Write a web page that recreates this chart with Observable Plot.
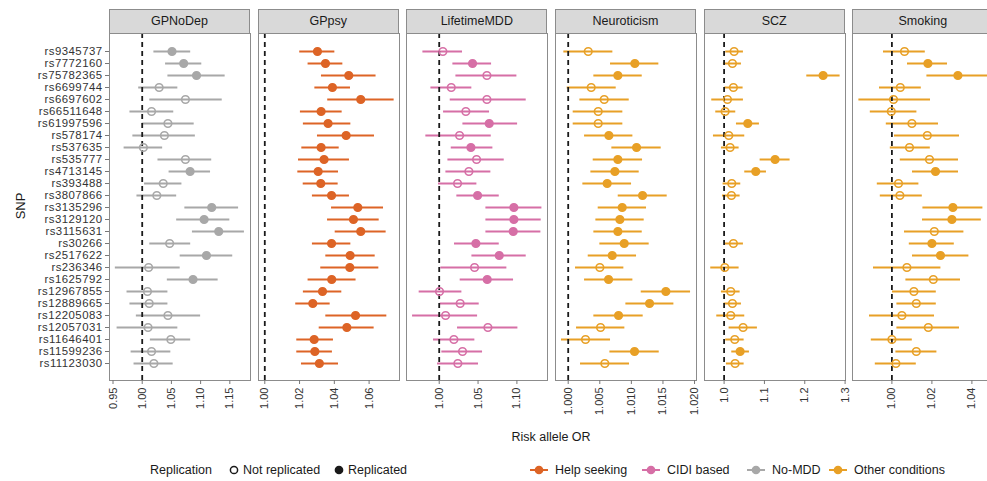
<!DOCTYPE html>
<html><head><meta charset="utf-8">
<script src="https://cdn.jsdelivr.net/npm/d3@7"></script>
<script src="https://cdn.jsdelivr.net/npm/@observablehq/plot@0.6"></script>
<style>
body{margin:0;width:987px;height:481px;overflow:hidden;background:#fff;font-family:"Liberation Sans",Arial,sans-serif;position:relative;color:#333}
.panel{position:absolute;top:0}
.strip{position:absolute;top:9px;height:25px;background:#d9d9d9;border:1px solid #8c8c8c;box-sizing:border-box;font-size:12.5px;color:#1a1a1a;text-align:center;line-height:23px}
.lab{position:absolute;font-size:12.5px;color:#1a1a1a;white-space:nowrap}
.leg{position:absolute;top:470px;transform:translateY(-50%);font-size:12.5px;color:#1a1a1a;white-space:nowrap}
g[aria-label="y-axis tick label"] text{letter-spacing:0.45px}
</style></head>
<body>
<script>
const snps = ["rs9345737","rs7772160","rs75782365","rs6699744","rs6697602","rs66511648","rs61997596","rs578174","rs537635","rs535777","rs4713145","rs393488","rs3807866","rs3135296","rs3129120","rs3115631","rs30266","rs2517622","rs236346","rs1625792","rs12967855","rs12889665","rs12205083","rs12057031","rs11646401","rs11599236","rs11123030"];
const facets = ["GPNoDep","GPpsy","LifetimeMDD","Neuroticism","SCZ","Smoking"];
const groups = ["Help seeking","CIDI based","No-MDD","Other conditions"];
const groupColors = ["#dd6426","#d66fa6","#a8a8a8","#e8a026"];

const noMddOR = [1.051,1.071,1.093,1.029,1.074,1.016,1.044,1.038,1.002,1.074,1.082,1.036,1.025,1.119,1.106,1.131,1.047,1.110,1.011,1.087,1.009,1.012,1.044,1.010,1.049,1.016,1.020];
const noMddLo = [1.020,1.040,1.044,0.994,1.013,0.979,1.000,0.984,0.969,1.027,1.046,1.004,0.991,1.073,1.059,1.086,1.013,1.065,0.954,1.043,0.974,0.979,0.990,0.957,1.014,0.981,0.986];
const noMddHi = [1.083,1.102,1.142,1.061,1.137,1.054,1.089,1.091,1.035,1.119,1.117,1.068,1.059,1.165,1.150,1.175,1.083,1.155,1.065,1.130,1.044,1.044,1.100,1.061,1.083,1.049,1.053];
const noMddRep = [1,1,1,0,0,0,0,0,0,0,1,0,0,1,1,1,0,1,0,1,0,0,0,0,0,0,0];

const gppsyOR = [1.0303,1.0349,1.0483,1.0389,1.0552,1.0324,1.0364,1.0468,1.0324,1.0341,1.0307,1.0322,1.0384,1.0535,1.0510,1.0552,1.0384,1.0491,1.0489,1.0385,1.0332,1.0276,1.0522,1.0472,1.0284,1.0288,1.0314];
const gppsyLo = [1.0201,1.0249,1.0326,1.0288,1.0362,1.0205,1.0222,1.0303,1.0213,1.0194,1.0190,1.0221,1.0274,1.0384,1.0361,1.0405,1.0274,1.0351,1.0322,1.0249,1.0222,1.0178,1.0351,1.0313,1.0184,1.0184,1.0211];
const gppsyHi = [1.0403,1.0449,1.0640,1.0493,1.0744,1.0445,1.0495,1.0631,1.0428,1.0487,1.0424,1.0422,1.0487,1.0683,1.0658,1.0698,1.0495,1.0635,1.0656,1.0525,1.0443,1.0376,1.0702,1.0629,1.0395,1.0389,1.0424];
const gppsyRep = [1,1,1,1,1,1,1,1,1,1,1,1,1,1,1,1,1,1,1,1,1,1,1,1,1,1,1];

const mddOR = [1.0047,1.0429,1.0614,1.0155,1.0614,1.0343,1.0644,1.0262,1.0408,1.0481,1.0382,1.0236,1.0494,1.0961,1.0961,1.0953,1.0472,1.0773,1.0455,1.0618,1.0004,1.0270,1.0082,1.0627,1.0189,1.0300,1.0240];
const mddLo = [0.979,1.0176,1.0215,0.9893,1.0142,1.0056,1.0305,0.9828,1.0155,1.0112,1.0086,0.9991,1.0227,1.0601,1.0601,1.0601,1.0197,1.0421,1.0021,1.0270,0.9742,1.0013,0.9657,1.0236,0.9927,1.0034,0.9979];
const mddHi = [1.030,1.0674,1.100,1.042,1.112,1.0648,1.1009,1.0670,1.0691,1.0837,1.0665,1.0485,1.0773,1.1322,1.1313,1.1309,1.0773,1.1120,1.0871,1.0957,1.0292,1.0515,1.0494,1.1013,1.0459,1.0558,1.0506];
const mddRep = [0,1,0,0,0,0,1,0,1,0,0,0,1,1,1,1,1,1,0,1,0,0,0,0,0,0,0];

const neuroOR = [1.00317,1.01055,1.00786,1.00364,1.0057,1.00475,1.00475,1.00644,1.01082,1.00786,1.00739,1.00617,1.01177,1.00855,1.00818,1.00786,1.00887,1.00697,1.00501,1.00639,1.01546,1.01288,1.00797,1.00512,1.00274,1.0105,1.0058];
const neuroLo = [0.99931,1.0067,1.00406,0.99984,1.00185,1.00079,1.00079,1.00259,1.00691,1.00396,1.00359,1.00232,1.00792,1.00475,1.00438,1.00406,1.00501,1.00317,1.00116,1.00259,1.01156,1.00913,1.00406,1.00132,0.99894,1.0066,1.00195];
const neuroHi = [1.00707,1.01435,1.01172,1.0076,1.00966,1.00865,1.00865,1.01024,1.01472,1.01177,1.01124,1.01003,1.01567,1.0124,1.01203,1.01172,1.01282,1.01082,1.00881,1.01024,1.01937,1.01673,1.01187,1.00897,1.0067,1.01441,1.00971];
const neuroRep = [0,1,1,0,0,0,0,1,1,1,1,1,1,1,1,1,1,1,0,1,1,1,1,0,0,1,0];

const sczOR = [1.0248,1.0207,1.2455,1.0231,1.0083,1.0025,1.0587,1.0116,1.0149,1.1264,1.0785,1.019,1.0182,null,null,null,1.0231,null,1.0017,null,1.0165,1.0207,1.0165,1.0471,1.0264,1.0397,1.0273];
const sczLo = [1.0041,0.9983,1.205,1.0017,0.9694,0.9793,1.0306,0.9736,0.9934,1.0893,1.0512,0.9975,0.9959,null,null,null,1.0017,null,0.9669,null,0.9934,1.0,0.9818,1.0124,1.0041,1.019,1.0058];
const sczHi = [1.0479,1.043,1.2876,1.0471,1.0479,1.0289,1.0876,1.0512,1.0372,1.1636,1.105,1.0413,1.0397,null,null,null,1.0479,null,1.0372,null,1.0397,1.043,1.0512,1.0826,1.0496,1.0628,1.0496];
const sczRep = [0,0,1,0,0,0,1,0,0,1,1,0,0,0,0,0,0,0,0,0,0,0,0,0,0,1,0];

const smokOR = [1.0063,1.018,1.033,1.0042,1.0008,0.9997,1.01,1.0177,1.0088,1.0188,1.0218,1.0033,1.004,1.0305,1.03,1.0212,1.02,1.0243,1.0075,1.0207,1.011,1.0122,1.005,1.0182,1.0,1.0122,1.002];
const smokLo = [0.9958,1.0078,1.0175,0.9938,0.9835,0.9892,0.9972,1.0013,0.9992,1.0042,1.0103,0.9927,0.9942,1.0155,1.0153,1.0063,1.0087,1.0103,0.9908,1.007,1.0003,1.0025,0.9888,1.0025,0.9897,1.002,0.9917];
const smokHi = [1.0167,1.0278,1.049,1.0147,1.0193,1.0125,1.0233,1.0338,1.0192,1.0333,1.0333,1.0135,1.0152,1.0455,1.0447,1.036,1.0312,1.0385,1.0245,1.0343,1.0222,1.0222,1.0213,1.0338,1.0102,1.0225,1.0122];
const smokRep = [0,1,1,0,0,0,0,0,0,0,1,0,0,1,1,0,1,1,0,0,0,0,0,0,0,0,0];

const xTicks = [[0.95,1,1.05,1.1,1.15],[1,1.02,1.04,1.06],[1,1.05,1.1],[1,1.005,1.01,1.015,1.02],[1,1.1,1.2,1.3],[1,1.02,1.04]];
const xFormats = [".2f",".2f",".2f",".3f",".1f",".2f"];

const series = [
  [noMddOR,noMddLo,noMddHi,noMddRep,2],
  [gppsyOR,gppsyLo,gppsyHi,gppsyRep,0],
  [mddOR,mddLo,mddHi,mddRep,1],
  [neuroOR,neuroLo,neuroHi,neuroRep,3],
  [sczOR,sczLo,sczHi,sczRep,3],
  [smokOR,smokLo,smokHi,smokRep,3]
];
const domains = [[0.944,1.1854],[0.99638,1.07749],[0.9579,1.1394],[0.99799,1.02031],[0.9514,1.301],[0.9803,1.0508]];
const lefts = [109,257.7,406.3,555,703.7,852.3];
const W = 141;

facets.forEach((name,i)=>{
  const [or,lo,hi,rep,g] = series[i];
  const color = groupColors[g];
  const data = snps.map((s,k)=>({snp:s,or:or[k],lo:lo[k],hi:hi[k],rep:rep[k]})).filter(d=>d.or!=null);
  const ml = i===0 ? lefts[0] : 2;
  const svgLeft = i===0 ? 0 : lefts[i]-2;
  const marks = [
    Plot.frame({stroke:"#8c8c8c"}),
    Plot.ruleY(data,{y:"snp",x1:"lo",x2:"hi",stroke:color,strokeWidth:2}),
    Plot.ruleX([1],{stroke:"#1a1a1a",strokeWidth:1.8,strokeDasharray:"5,4"}),
    Plot.dot(data.filter(d=>!d.rep),{x:"or",y:"snp",r:3.8,stroke:color,strokeWidth:1.6,fill:"none"}),
    Plot.dot(data.filter(d=>d.rep),{x:"or",y:"snp",r:3.8,stroke:color,strokeWidth:1.6,fill:color}),
    Plot.axisX({ticks:xTicks[i],tickFormat:d3.format(xFormats[i]),tickRotate:-90,tickSize:4,tickPadding:3,fontSize:11,label:null,stroke:"#777",fill:"#333"})
  ];
  if(i===0) marks.push(Plot.axisY({tickSize:4,tickPadding:3,fontSize:11.4,label:null,stroke:"#777",fill:"#333"}));
  const chart = Plot.plot({
    width: ml + W + 2, height: 430,
    marginLeft: ml, marginRight: 2, marginTop: 33, marginBottom: 50,
    style:{background:"transparent",fontFamily:"Liberation Sans, Arial, sans-serif",overflow:"visible"},
    x:{domain:domains[i],axis:null},
    y:{type:"point",domain:snps,padding:0.6,axis:null},
    marks
  });
  const div = document.createElement("div");
  div.className="panel";
  div.style.left = svgLeft+"px";
  div.style.width = (ml+W+2)+"px";
  div.appendChild(chart);
  document.body.appendChild(div);
  const strip = document.createElement("div");
  strip.className="strip";
  strip.style.left = lefts[i]+"px";
  strip.style.width = W+"px";
  strip.textContent = name;
  document.body.appendChild(strip);
});

function addLab(text, left, top, extra){
  const el=document.createElement("div");
  el.className="lab"; el.textContent=text;
  el.style.left=left+"px"; el.style.top=top+"px";
  if(extra) Object.assign(el.style, extra);
  document.body.appendChild(el);
  return el;
}
addLab("SNP", 20, 206, {transform:"translate(-50%,-50%) rotate(-90deg)", fontSize:"13px"});
addLab("Risk allele OR", 551, 437, {transform:"translate(-50%,-50%)", fontSize:"12.5px"});

// legends
function legText(text,left){const el=document.createElement("div");el.className="leg";el.textContent=text;el.style.left=left+"px";document.body.appendChild(el);}
function legSym(left, color, filled, line){
  const ns="http://www.w3.org/2000/svg";
  const s=document.createElementNS(ns,"svg");
  s.setAttribute("width",20);s.setAttribute("height",12);
  s.style.position="absolute";s.style.left=(left-10)+"px";s.style.top="464px";
  if(line){const l=document.createElementNS(ns,"line");l.setAttribute("x1",1);l.setAttribute("x2",19);l.setAttribute("y1",6);l.setAttribute("y2",6);l.setAttribute("stroke",color);l.setAttribute("stroke-width",2);s.appendChild(l);}
  const c=document.createElementNS(ns,"circle");c.setAttribute("cx",10);c.setAttribute("cy",6);c.setAttribute("r",3.6);
  c.setAttribute("stroke",color);c.setAttribute("stroke-width",1.5);c.setAttribute("fill",filled?color:"none");s.appendChild(c);
  document.body.appendChild(s);
}
legText("Replication",150);
legSym(234,"#1a1a1a",false,false); legText("Not replicated",243);
legSym(339,"#1a1a1a",true,false); legText("Replicated",348);
const legX=[539,651,756,838];
groups.forEach((g,k)=>{legSym(legX[k],groupColors[k],true,true);legText(g,legX[k]+16);});
</script>
</body></html>
